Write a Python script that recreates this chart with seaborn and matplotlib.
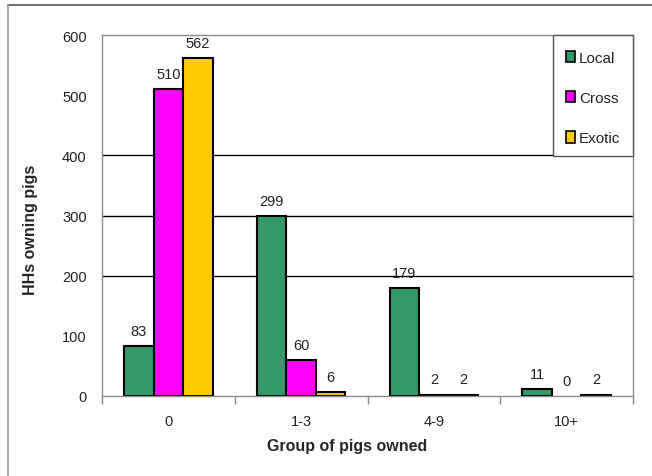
import matplotlib
matplotlib.use("Agg")
import matplotlib.pyplot as plt
from matplotlib.lines import Line2D
from matplotlib.patches import Rectangle
import seaborn as sns
import pandas as pd

# Households owning pigs, by herd size and breed type
groups = ["0", "1-3", "4-9", "10+"]
breeds = ["Local", "Cross", "Exotic"]
local = [83, 299, 179, 11]
cross = [510, 60, 2, 0]
exotic = [562, 6, 2, 2]
colors = ["#339966", "#FF00FF", "#FFCC00"]

rows = []
for breed, values in zip(breeds, [local, cross, exotic]):
    for g, v in zip(groups, values):
        rows.append({"group": g, "breed": breed, "count": v})
df = pd.DataFrame(rows)

sns.set_theme(style="white")
plt.rcParams["font.family"] = ["Liberation Sans", "DejaVu Sans"]

fig = plt.figure(figsize=(6.52, 4.77), dpi=100)
ax = fig.add_axes([102 / 652, 80 / 477, 531 / 652, 361 / 477])

sns.barplot(data=df, x="group", y="count", hue="breed", order=groups,
            hue_order=breeds, palette=colors, width=2 / 3, saturation=1,
            edgecolor="black", linewidth=1.5, ax=ax, legend=True)

# value labels above each bar; zero-height bars get no outline
for container in ax.containers:
    for patch in container:
        if patch.get_height() == 0:
            patch.set_linewidth(0)
    ax.bar_label(container, fmt="%d", padding=6, fontsize=10.5, color="#222222")

ax.set_ylim(0, 600)
ax.set_xlim(-0.5, 3.5)
ax.set_yticks(range(0, 601, 100))
ax.tick_params(axis="y", length=0, pad=11, labelsize=10.5, labelcolor="#222222")
ax.tick_params(axis="x", which="major", length=0, pad=13, labelsize=10.5, labelcolor="#222222")
ax.set_xticks([-0.5, 0.5, 1.5, 2.5, 3.5], minor=True)
ax.tick_params(axis="x", which="minor", length=6, width=1, color="#888888", direction="out")
ax.tick_params(axis="x", which="minor", bottom=True)

for y in (200, 300, 400):
    ax.axhline(y, color="black", linewidth=1, zorder=0.5)

for s in ax.spines.values():
    s.set_color("#8c8c8c")
    s.set_linewidth(1)

ax.set_xlabel("Group of pigs owned", fontsize=11.5, fontweight="bold")
ax.set_ylabel("HHs owning pigs", fontsize=11.5, fontweight="bold")
ax.xaxis.set_label_coords((347 - 102) / 531, -(439 - 397) / 361)
ax.yaxis.set_label_coords(-(102 - 38) / 531, (397 - 230) / 361)

# legend box in the upper-right corner of the plot area
x0 = (553 - 102) / 531
y0 = (397 - 157) / 361
ax.add_patch(Rectangle((x0, y0), 1 - x0, 1 - y0, transform=ax.transAxes,
                       facecolor="white", edgecolor="#555555", linewidth=1,
                       zorder=3, clip_on=False))
handles, labels = ax.get_legend_handles_labels()
for h in handles:
    h.set_edgecolor("black")
    h.set_linewidth(1.2)
ax.legend(handles, labels, loc="center",
          bbox_to_anchor=((1 + x0) / 2, (1 + y0) / 2 - 2.5 / 361),
          frameon=False, fontsize=11, labelspacing=1.72,
          handlelength=0.6, handleheight=0.75, handletextpad=0.25,
          borderpad=0, labelcolor="#222222")
ax.get_legend().set_zorder(4)

# outer frame lines
fig.add_artist(Line2D([8 / 652, 1], [1 - 6 / 477, 1 - 6 / 477],
                      color="#555555", linewidth=1.2))
fig.add_artist(Line2D([8 / 652, 8 / 652], [0, 1 - 6 / 477],
                      color="#999999", linewidth=1.2))

fig.savefig("out.png", dpi=100)
